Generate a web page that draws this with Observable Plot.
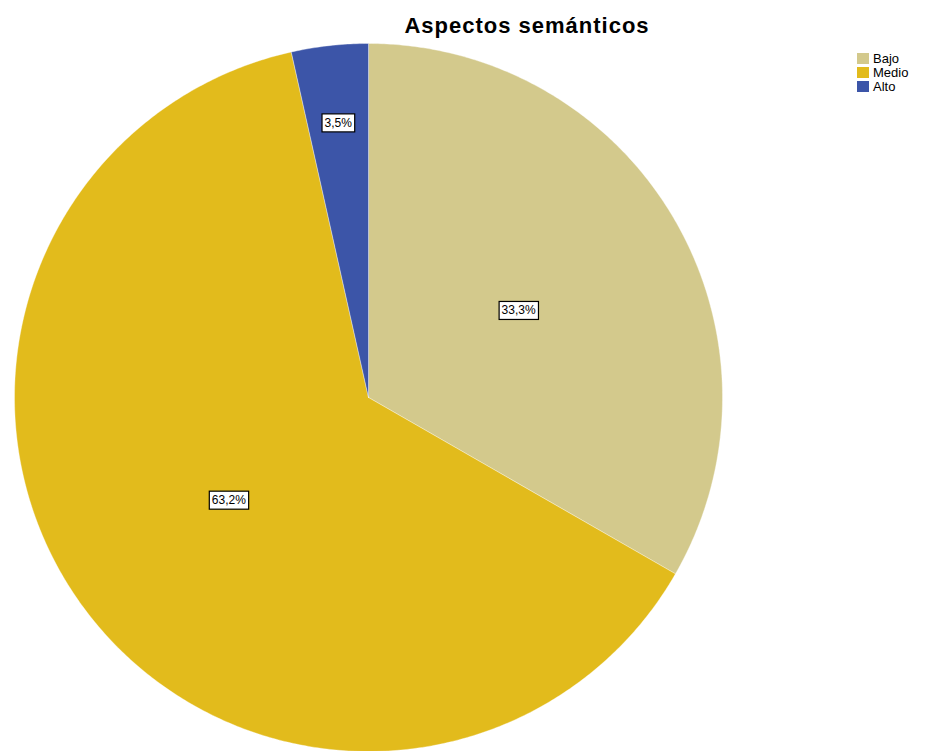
<!DOCTYPE html>
<html><head><meta charset="utf-8">
<script src="https://cdn.jsdelivr.net/npm/d3@7"></script>
<script src="https://cdn.jsdelivr.net/npm/@observablehq/plot@0.6"></script>
<style>
body{margin:0;background:#fff;font-family:"Liberation Sans",Arial,sans-serif;}
#wrap{position:relative;width:938px;height:751px;overflow:hidden;}
#title{position:absolute;left:0;width:1054px;top:13px;text-align:center;font-weight:bold;font-size:22px;color:#000;letter-spacing:1px;}
#legend{position:absolute;left:857px;top:51px;font-size:13px;color:#000;}
#legend .row{display:flex;align-items:center;height:14px;}
#legend .sw{width:12px;height:11px;margin-right:4px;}
</style>
</head><body>
<div id="wrap"><div id="chart"></div><div id="title"></div><div id="legend"></div></div>
<script>
const categories = ["Bajo", "Medio", "Alto"];
const percents = [33.3, 63.2, 3.5];
const labels = ["33,3%", "63,2%", "3,5%"];
const colors = ["#d3c98c", "#e2bb1c", "#3c55a8"];
const title = "Aspectos semánticos";

const arcs = d3.pie().sort(null).value(d => d)(percents);
const slices = [];
arcs.forEach((a, i) => {
  slices.push({cat: categories[i], x: 0, y: 0});
  const n = Math.max(2, Math.ceil((a.endAngle - a.startAngle) / (Math.PI / 360)));
  for (let k = 0; k <= n; k++) {
    const t = a.startAngle + (a.endAngle - a.startAngle) * k / n;
    slices.push({cat: categories[i], x: Math.sin(t), y: Math.cos(t)});
  }
  slices.push({cat: categories[i], x: 0, y: 0});
});
const labelData = arcs.map((a, i) => {
  const m = (a.startAngle + a.endAngle) / 2;
  const f = percents[i] < 5 ? 0.78 : 0.49;
  return {label: labels[i], x: f * Math.sin(m), y: f * Math.cos(m)};
});

const R = 354, cx = 368, cy = 397;
const chart = Plot.plot({
  width: 938, height: 751,
  marginLeft: cx - R, marginRight: 938 - (cx + R),
  marginTop: cy - R, marginBottom: 751 - (cy + R),
  x: {domain: [-1, 1], axis: null},
  y: {domain: [-1, 1], axis: null},
  color: {domain: categories, range: colors},
  style: {fontFamily: "'Liberation Sans', Arial, sans-serif", background: "#fff"},
  marks: [
    Plot.line(slices, {x: "x", y: "y", z: "cat", fill: "cat", stroke: "#ffffff", strokeWidth: 0.6, strokeOpacity: 0.6, curve: "linear"}),
    Plot.text(labelData, {x: "x", y: "y", text: "label", fontSize: 12, fill: "#000", className: "pielabel"})
  ]
});
document.getElementById("chart").appendChild(chart);

// white boxes behind labels
d3.select(chart).selectAll("g.pielabel text").each(function() {
  const bb = this.getBBox();
  const tr = this.getAttribute("transform");
  const r = d3.select(this.parentNode).insert("rect", () => this)
    .attr("x", bb.x - 2.5).attr("y", bb.y - 2)
    .attr("width", bb.width + 5).attr("height", bb.height + 4)
    .attr("fill", "#fff").attr("stroke", "#000").attr("stroke-width", 1.2);
  if (tr) r.attr("transform", tr);
});

document.getElementById("title").textContent = title;
const leg = d3.select("#legend");
categories.forEach((c, i) => {
  const row = leg.append("div").attr("class", "row");
  row.append("div").attr("class", "sw").style("background", colors[i]);
  row.append("span").text(c);
});
</script>
</body></html>
